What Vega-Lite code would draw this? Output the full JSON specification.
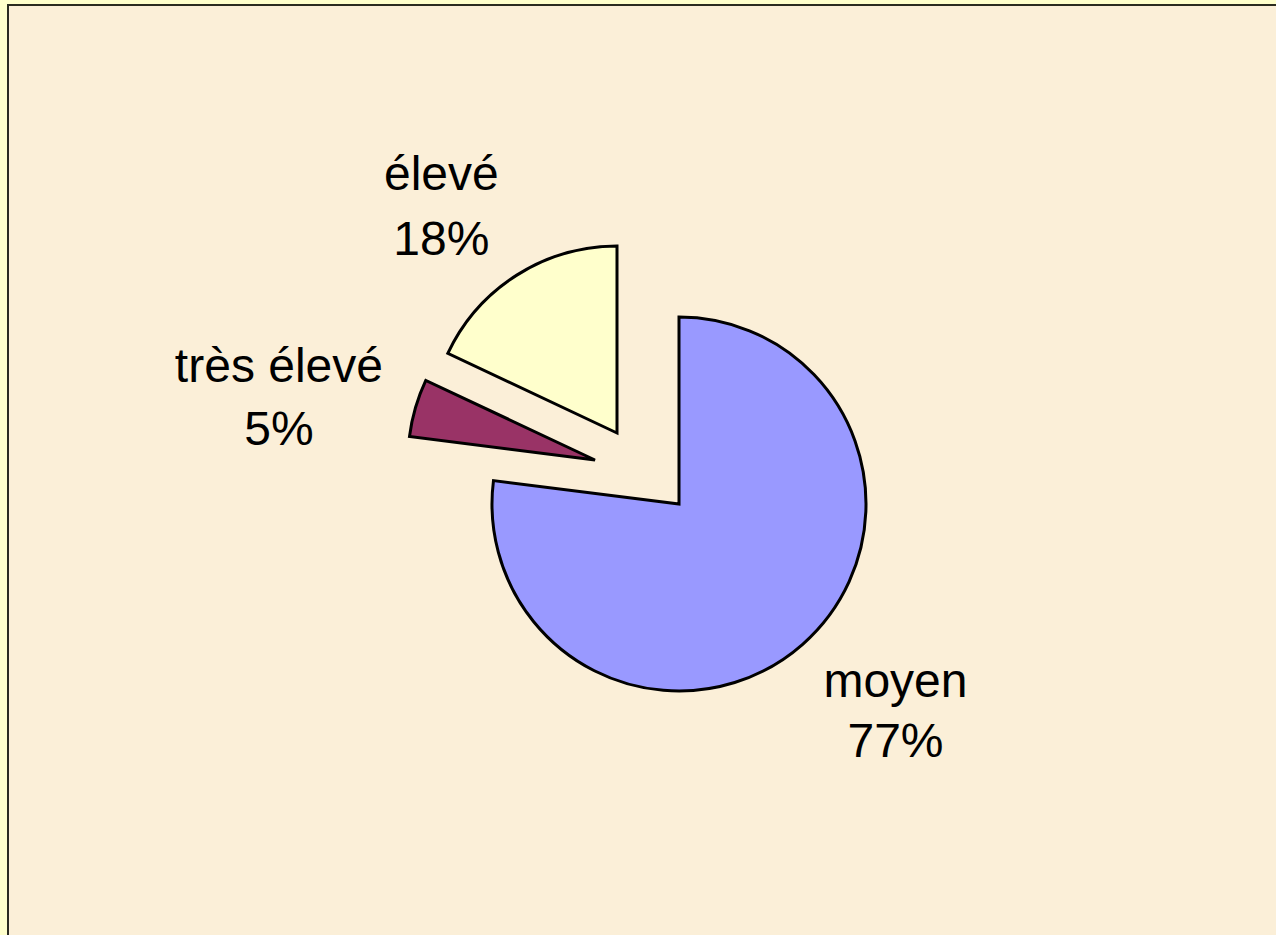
{
  "$schema": "https://vega.github.io/schema/vega-lite/v6.json",
  "width": 1272,
  "height": 934,
  "autosize": {"type": "none"},
  "padding": {"left": 8, "top": 5, "right": -4, "bottom": -4},
  "background": "#FFFFCC",
  "view": {"fill": "#FBEFD8", "stroke": "#2B2B20", "strokeWidth": 2}, 
  "data": {
    "values": [
      {"categorie": "moyen", "pct": 77, "ordre": 1},
      {"categorie": "très élevé", "pct": 5, "ordre": 2},
      {"categorie": "élevé", "pct": 18, "ordre": 3}
    ]
  },
  "transform": [
    {"stack": "pct", "groupby": [], "sort": [{"field": "ordre"}], "as": ["t0", "t1"]},
    {"calculate": "(datum.t0 + datum.t1) / 2", "as": "tmid"},
    {"calculate": "datum.categorie + '\\n' + datum.pct + '%'", "as": "label"}
  ],
  "encoding": {
    "color": {
      "field": "categorie",
      "type": "nominal",
      "scale": {"domain": ["moyen", "très élevé", "élevé"], "range": ["#9999FF", "#993366", "#FFFFCC"]},
      "legend": null
    }
  },
  "layer": [
    {
      "transform": [{"filter": "datum.categorie === 'moyen'"}],
      "mark": {"type": "arc", "radius": 187, "stroke": "#000000", "strokeWidth": 3, "xOffset": 35, "yOffset": 32},
      "encoding": {
        "theta": {"field": "t0", "type": "quantitative", "stack": null, "scale": {"domain": [0, 100]}},
        "theta2": {"field": "t1"}
      }
    },
    {
      "transform": [{"filter": "datum.categorie === 'très élevé'"}],
      "mark": {"type": "arc", "radius": 187, "stroke": "#000000", "strokeWidth": 3, "xOffset": -49, "yOffset": -12},
      "encoding": {
        "theta": {"field": "t0", "type": "quantitative", "stack": null, "scale": {"domain": [0, 100]}},
        "theta2": {"field": "t1"}
      }
    },
    {
      "transform": [{"filter": "datum.categorie === 'élevé'"}],
      "mark": {"type": "arc", "radius": 187, "stroke": "#000000", "strokeWidth": 3, "xOffset": -27, "yOffset": -39},
      "encoding": {
        "theta": {"field": "t0", "type": "quantitative", "stack": null, "scale": {"domain": [0, 100]}},
        "theta2": {"field": "t1"}
      }
    },
    {
      "transform": [{"filter": "datum.categorie === 'moyen'"}],
      "mark": {"type": "text", "radius": 285, "xOffset": 35, "yOffset": 32, "dx": 28, "dy": -21, "font": "Liberation Sans", "fontSize": 48, "lineBreak": "\n", "lineHeight": 60, "align": "center", "baseline": "alphabetic"},
      "encoding": {
        "theta": {"field": "tmid", "type": "quantitative", "stack": null, "scale": {"domain": [0, 100]}},
        "text": {"field": "label"},
        "color": {"value": "#000000"}
      }
    },
    {
      "transform": [{"filter": "datum.categorie === 'très élevé'"}],
      "mark": {"type": "text", "radius": 300, "xOffset": -49, "yOffset": -12, "dx": -28, "dy": 6, "font": "Liberation Sans", "fontSize": 48, "lineBreak": "\n", "lineHeight": 63, "align": "center", "baseline": "alphabetic"},
      "encoding": {
        "theta": {"field": "tmid", "type": "quantitative", "stack": null, "scale": {"domain": [0, 100]}},
        "text": {"field": "label"},
        "color": {"value": "#000000"}
      }
    },
    {
      "transform": [{"filter": "datum.categorie === 'élevé'"}],
      "mark": {"type": "text", "radius": 270, "xOffset": -27, "yOffset": -39, "dx": -31, "dy": -15, "font": "Liberation Sans", "fontSize": 48, "lineBreak": "\n", "lineHeight": 65, "align": "center", "baseline": "alphabetic"},
      "encoding": {
        "theta": {"field": "tmid", "type": "quantitative", "stack": null, "scale": {"domain": [0, 100]}},
        "text": {"field": "label"},
        "color": {"value": "#000000"}
      }
    }
  ]
}
